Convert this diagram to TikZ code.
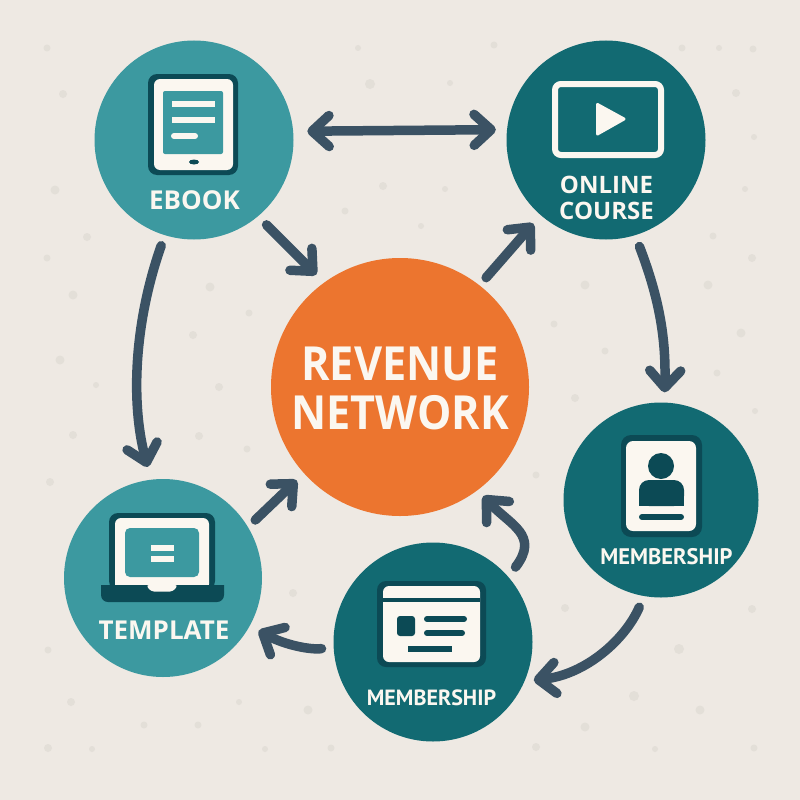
\documentclass[tikz,border=0pt]{standalone}
\usepackage{fontspec}
\setmainfont{Open Sans}
\newfontfamily\memfont{PT Sans}
\newfontfamily\hubfont[FakeStretch=0.92]{Open Sans}
\usepackage{xcolor}
\usetikzlibrary{arrows.meta}
\definecolor{bgc}{HTML}{EEE9E3}
\definecolor{dotc}{HTML}{E3DFD8}
\definecolor{lightc}{HTML}{3C99A0}
\definecolor{mainc}{HTML}{126A72}
\definecolor{deepc}{HTML}{0C4A55}
\definecolor{warmc}{HTML}{EC752F}
\definecolor{creamc}{HTML}{FBF7F0}
\definecolor{flowc}{HTML}{3B5264}
\tikzset{
  hubc/.style={circle,fill=warmc,inner sep=0pt,minimum size=258pt},
  litec/.style={circle,fill=lightc,inner sep=0pt,minimum size=199pt},
  darkc/.style={circle,fill=mainc,inner sep=0pt,minimum size=198pt},
  lab/.style={text=creamc,align=center,inner sep=0pt,font=\bfseries\fontsize{26}{26}\selectfont},
  memlab/.style={text=creamc,inner sep=0pt,font=\memfont\bfseries\fontsize{22.5}{26}\selectfont},
  flow/.style={-{Straight Barb[length=17pt,width=31pt,round]},line width=9.5pt,flowc,line cap=round}
}
\begin{document}
\begin{tikzpicture}[x=1pt,y=-1pt]
\useasboundingbox (0,0) rectangle (800,800);
\fill[bgc] (0,0) rectangle (800,800);
\foreach \x/\y/\r in {47/48/3.5,63/94/4,358/48/3,370/84/5,55/190/4.5,383/186/4,345/211/3.5,87/237/4,47/258/3.5,73/295/4.5,210/287/4.5,249/313/3.5,193/335/4,60/360/4.5,96/385/3,219/387/4,
  494/45/3.5,450/83/3,682/48/3.5,719/48/3,753/49/3.5,736/93/4,754/137/3,445/189/3,745/189/3,421/226/3,713/236/3.5,752/258/4,585/285/4.5,708/285/4.5,554/324/3.5,741/333/4.5,605/351/3.5,717/373/3.5,575/398/4,
  73/435/4,199/436/4,247/449/3.5,50/482/4,293/593/4,48/650/3.5,71/702/4,239/702/3,308/710/4.5,144/725/3.5,198/725/3.5,48/748/4,92/749/3,265/749/3,331/748/3.5,
  755/411/3,536/475/3.5,565/608/4,752/609/4,679/649/5,634/696/5,700/710/4.5,585/727/4.5,536/747/4,655/749/3,754/748/3.5}
  \fill[dotc] (\x,\y) circle (\r pt);

\node[hubc] (hub) at (400,387) {};
\node[litec] (ebook) at (194,140) {};
\node[darkc,minimum size=199pt] (course) at (606,140) {};
\node[darkc,minimum size=195pt] (memcard) at (661,500) {};
\node[darkc,minimum size=199pt] (memweb) at (433,642) {};
\node[litec,minimum size=198pt] (templ) at (163,578) {};

\fill[deepc,rounded corners=9pt] (148,74) rectangle (238,175);
\fill[creamc,rounded corners=6pt] (154,79) rectangle (233,170);
\fill[lightc,rounded corners=2pt] (163,91) rectangle (223,154);
\draw[creamc,line width=6pt] (172,104)--(215,104) (172,120)--(215,120);
\draw[creamc,line width=6pt,line cap=round] (174,136)--(195,136);
\fill[deepc] (194,162) ellipse (5pt and 2.5pt);

\draw[creamc,line width=6pt,rounded corners=6pt] (555,84)rectangle(661,155);
\fill[creamc,draw=creamc,line width=3pt,line join=round] (597.5,104.5)--(624,119)--(597.5,134)--cycle;

\fill[deepc,rounded corners=10pt] (621,435) rectangle (702,537);
\fill[creamc,rounded corners=7pt] (626,441) rectangle (696,531);
\fill[deepc] (661,466) circle (13pt);
\fill[deepc,rounded corners=10pt] (639,506) rectangle (684,480);
\fill[deepc] (639,495) rectangle (684,506);
\draw[deepc,line width=6pt,line cap=round] (642,517)--(681,517);

\fill[deepc,rounded corners=9pt] (377,581) rectangle (486,667);
\fill[creamc,rounded corners=6pt] (383,586) rectangle (480,662);
\draw[deepc,line width=4.5pt] (383,600)--(480,600);
\fill[deepc,rounded corners=3pt] (397,616) rectangle (415,636);
\draw[deepc,line width=6pt,line cap=round] (427,619)--(464,619) (427,633)--(462,633);
\draw[deepc,line width=6pt] (408,649)--(452,649);

\fill[deepc,rounded corners=9pt] (109,590)--(109,513)--(215,513)--(215,590)--cycle;
\fill[creamc,rounded corners=6pt] (115,590)--(115,518)--(209,518)--(209,590)--cycle;
\fill[lightc,rounded corners=5pt] (125,528) rectangle (199,577);
\draw[creamc,line width=6pt] (151,548)--(174,548) (151,559)--(174,559);
\fill[deepc,rounded corners=7pt] (101,585)--(101,602)--(224,602)--(224,585)--cycle;
\fill[deepc] (101,585) rectangle (112,592) (213,585) rectangle (224,592);
\fill[deepc] (109,585) rectangle (215,592);
\fill[creamc,rounded corners=3pt] (146,585)--(151,591.5)--(173,591.5)--(178,585)--cycle;

\node[lab] (ebooktxt) at (194.5,200) {EBOOK};
\node[lab,font=\bfseries\fontsize{24}{26}\selectfont] (coursetxt) at (606.5,197.5) {ONLINE\\COURSE};
\node[memlab] (cardtxt) at (666.5,556.5) {MEMBERSHIP};
\node[memlab,font=\memfont\bfseries\fontsize{22}{26}\selectfont] (webtxt) at (431.5,697.5) {MEMBERSHIP};
\node[lab] (templtxt) at (164,630) {TEMPLATE};
\node[text=creamc,align=center,inner sep=0pt,font=\hubfont\bfseries\fontsize{47}{49}\selectfont] (hubtxt) at (400,388) {REVENUE\\NETWORK};

\draw[flow,{Straight Barb[length=17pt,width=31pt,round]}-{Straight Barb[length=17pt,width=31pt,round]},shorten <=14pt,shorten >=11pt] (ebook.5.7)--(course.174.3);
\draw[flow,shorten <=12pt,shorten >=11pt] (ebook.-50)--(hub.126.5);
\draw[flow,shorten <=10pt,shorten >=11pt] (hub.52.9)--(course.229.7);
\draw[flow,shorten <=11pt,shorten >=13pt] (ebook.-107)..controls (135,320) and (130,400)..(templ.97.6);
\draw[flow,shorten <=12pt,shorten >=10pt] (course.-73.4)..controls (660,300) and (666,340)..(memcard.88);
\draw[flow,shorten <=12pt,shorten >=9pt] (memcard.-100.5)..controls (625,640) and (585,675)..(memweb.-23);
\draw[flow,shorten <=12pt,shorten >=8pt] (memweb.41.4)..controls (540,535) and (510,525)..(hub.-53.3);
\draw[flow,shorten <=12pt,shorten >=10pt] (memweb.183)..controls (310,650) and (285,645)..(templ.-29.6);
\draw[flow,shorten <=10pt,shorten >=10pt] (templ.31.5)--(hub.222.7);
\end{tikzpicture}
\end{document}
